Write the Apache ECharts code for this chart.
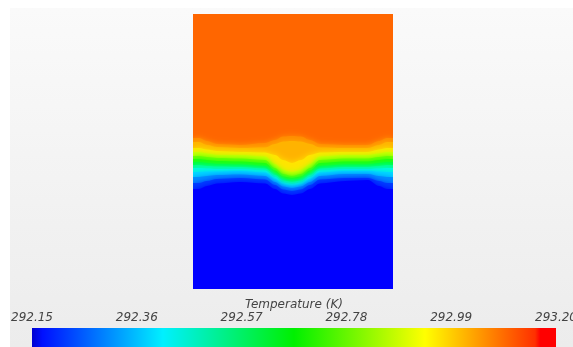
<!DOCTYPE html>
<html>
<head>
<meta charset="utf-8">
<title>temperature</title>
<script src="https://cdn.jsdelivr.net/npm/echarts@6/dist/echarts.min.js"></script>
<style>
	body { margin: 0; background: #fff; }
	#wrap { position: relative; width: 573px; height: 347px; background: #fff; overflow: hidden; }
	#panel { position: absolute; left: 10px; top: 8px; right: 0; bottom: 0; background: linear-gradient(#fafafa, #ececec); }
	#box { position: absolute; left: 0; top: 0; width: 573px; height: 347px; }
</style>
</head>
<body>
<div id="wrap">
	<div id="panel"></div>
	<div id="box"></div>
</div>
<script>
var chart = echarts.init(document.getElementById('box'))

// colour bar labels (K)
var tickLabels = ['292.15', '292.36', '292.57', '292.78', '292.99', '293.20']

// sample positions across the box (0 = left wall, 200 = right wall)
var xs = [0, 6, 14, 24, 47, 72, 82, 90, 99, 108, 117, 127, 152, 175, 186, 194, 200]

// isotherms, normalised temperature (0 = 292.15 K, 1 = 293.20 K)
var levels = [0.88, 0.85, 0.80, 0.75, 0.66, 0.58, 0.50, 0.42, 0.33, 0.25, 0.18, 0.10, 0.02]
// warm fluid on top
var topValue = 0.9

// depth of each isotherm below the top of the box
var iso88 = [124, 124, 127, 130, 131, 129, 126, 122.5, 122, 122.5, 126, 130, 131, 131, 127, 124, 124]
var iso85 = [128, 128, 131, 133, 134, 133.5, 130, 127.5, 127, 127.5, 130, 133.5, 134, 134, 131, 128, 128]
var iso80 = [134, 134, 135.5, 137, 138, 138.5, 141, 146, 149, 146, 141, 138.5, 138, 138, 135.5, 134, 134]
var iso75 = [138, 138, 139.5, 141, 141, 142.5, 150, 156, 158, 156, 150, 142.5, 141, 141, 139.5, 138, 138]
var iso66 = [142, 142, 143, 144, 144.5, 146, 154, 160, 162, 160, 154, 146, 144.5, 144.5, 143, 142, 142]
var iso58 = [145, 145, 146, 147, 147.5, 149, 156.5, 162.5, 164, 162.5, 156.5, 149, 147.5, 147.5, 146, 145, 145]
var iso50 = [148, 148, 149, 150, 150.5, 152, 159, 164.5, 166, 164.5, 159, 152, 150.5, 150.5, 149, 148, 148]
var iso42 = [151, 151, 152, 152.5, 153, 154.5, 161, 166.5, 168, 166.5, 161, 154.5, 153, 153, 152, 151, 151]
var iso33 = [154, 154, 154.5, 155, 155, 156.5, 163, 168.5, 170, 168.5, 163, 156.5, 155, 155, 154.5, 154, 154]
var iso25 = [158, 158, 157.5, 157.5, 157, 158.5, 165, 170.5, 172, 170.5, 165, 158.5, 157, 157, 157.5, 158, 158]
var iso18 = [163, 163, 162, 161, 160.5, 162, 168, 172.5, 174, 172.5, 168, 162, 160, 160, 162, 163, 163]
var iso10 = [169, 169, 167, 165, 164, 165.5, 171, 175.5, 177, 175.5, 171, 165.5, 164, 164, 167, 169, 169]
var iso02 = [175, 175, 172, 169.5, 168, 169.5, 175, 179.5, 181, 179.5, 175, 169.5, 167, 166, 172, 175, 175]

var isoDepths = [iso88, iso85, iso80, iso75, iso66, iso58, iso50, iso42, iso33, iso25, iso18, iso10, iso02]

// rainbow colour map
var stops = [[0, [0, 0, 255]], [0.25, [0, 255, 255]], [0.5, [0, 255, 0]], [0.75, [255, 255, 0]], [1, [255, 0, 0]]]
function jet(t) {
	for (var i = 1; i < stops.length; i++) {
		if (t <= stops[i][0]) {
			var a = stops[i - 1], b = stops[i]
			var f = (t - a[0]) / (b[0] - a[0])
			var c = a[1].map(function (v, k) { return Math.round(v + (b[1][k] - v) * f) })
			return 'rgb(' + c.join(',') + ')'
		}
	}
	return 'rgb(255,0,0)'
}

var labelFont = { fontFamily: 'DejaVu Sans', fontStyle: 'italic', fontSize: 12, color: '#444' }

// each isotherm fills downward with the colour of the band below it
var series = levels.map(function (lv, i) {
	var below = i < levels.length - 1 ? (lv + levels[i + 1]) / 2 : 0
	var col = jet(below)
	return {
		type: 'line',
		xAxisIndex: 0,
		yAxisIndex: 0,
		data: xs.map(function (x, j) { return [x, isoDepths[i][j]] }),
		smooth: 0.35,
		smoothMonotone: 'x',
		symbol: 'none',
		silent: true,
		clip: true,
		lineStyle: { width: 0, color: col },
		areaStyle: { color: col, opacity: 1, origin: 'end', shadowBlur: 6, shadowColor: col }
	}
})

var option = {
	animation: false,
	grid: [
		{ left: 193, top: 14, width: 200, height: 275, outerBoundsMode: 'none', show: true, borderWidth: 0, backgroundColor: jet(topValue) },
		{
			left: 32, top: 328, width: 524, height: 25, outerBoundsMode: 'none', show: true, borderWidth: 0,
			backgroundColor: {
				type: 'linear', x: 0, y: 0, x2: 1, y2: 0,
				colorStops: [
					{ offset: 0, color: '#0000d0' },
					{ offset: 0.02, color: '#0010ff' },
					{ offset: 0.25, color: '#00f0ff' },
					{ offset: 0.5, color: '#00f000' },
					{ offset: 0.75, color: '#ffff00' },
					{ offset: 0.96, color: '#ff3000' },
					{ offset: 0.97, color: '#ff0000' },
					{ offset: 1, color: '#ff0000' }
				]
			}
		}
	],
	xAxis: [
		{ gridIndex: 0, type: 'value', min: 0, max: 200, show: false },
		{
			gridIndex: 1, type: 'value', min: 0, max: 5, interval: 1, position: 'top',
			name: 'Temperature (K)', nameLocation: 'middle', nameGap: 15,
			nameTextStyle: labelFont,
			axisLine: { show: false }, axisTick: { show: false }, splitLine: { show: false },
			axisLabel: Object.assign({
				margin: 4, showMinLabel: true, showMaxLabel: true, hideOverlap: false,
				formatter: function (v) { return tickLabels[v] }
			}, labelFont)
		}
	],
	yAxis: [
		{ gridIndex: 0, type: 'value', min: 0, max: 275, inverse: true, show: false },
		{ gridIndex: 1, type: 'value', show: false }
	],
	series: series
}
chart.setOption(option)
</script>
</body>
</html>
